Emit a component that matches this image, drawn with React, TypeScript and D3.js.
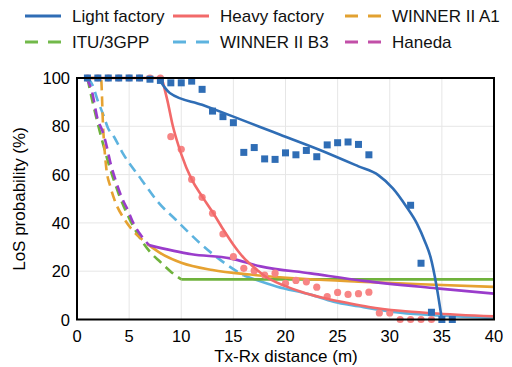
import React, { useEffect, useRef } from 'react';
import * as d3 from 'd3';

// measured points (x = distance m, y = LoS %)
const lightMeasX = [1, 2, 3, 4, 5, 6, 7, 8, 9, 10, 11, 12, 13, 14, 15, 16, 17, 18, 19, 20, 21, 22, 23, 24, 25, 26, 27, 28, 32, 33, 34, 35, 36];
const lightMeasY = [100, 100, 100, 100, 100, 100, 99.5, 99, 98, 98, 98.7, 95.3, 86.3, 84, 81.5, 69.2, 71.2, 66.5, 66.3, 69, 68.2, 70, 67.4, 72.3, 73.2, 73.5, 72.5, 68.2, 47.3, 23.3, 3, 0, 0];
const heavyMeasX = [1, 2, 3, 4, 5, 6, 7, 8, 9, 10, 11, 12, 13, 14, 15, 16, 17, 18, 19, 20, 21, 22, 23, 24, 25, 26, 27, 28, 29, 30, 31, 32, 33, 34];
const heavyMeasY = [100, 100, 100, 100, 100, 100, 100, 100, 75.7, 70.5, 58, 50.6, 44, 35.4, 26, 21.2, 20.2, 18.4, 19.2, 15, 16.2, 15.6, 13.4, 9.5, 11.2, 10.4, 10.7, 11.3, 2.7, 2.7, 0, 0, 0, 0];

// fitted curves
const lightFitX = [7.8, 8.9, 12, 15, 17.5, 19.5, 23.3, 27, 28.9, 30.3, 31.6, 32.6, 33.4, 33.9, 34.5, 35];
const lightFitY = [100, 93.8, 88.9, 84, 79.8, 76.5, 70.2, 63.4, 59.8, 54.3, 46.7, 39.8, 32, 26, 13.6, 0];
const heavyFitX = [0.8, 8, 8.6, 9.2, 10, 11, 12, 13, 14, 15, 16, 17, 18, 20, 22, 24, 26, 28, 31, 34, 40];
const heavyFitY = [100, 100, 92, 80, 68.5, 58, 51, 44.5, 37.5, 31, 25.5, 21.5, 18, 13.8, 10.8, 8.6, 6.8, 5.2, 3.6, 2.6, 1.3];

// models: dashed part, then solid part
const a1X = [1, 2.3, 2.5, 2.8, 3.2, 3.6, 4.6, 5.6, 6.5, 7];
const a1Y = [100, 100, 80, 63, 55, 49.5, 41.2, 35.7, 32.2, 30.5];
const a1SolidX = [7, 8, 10, 13, 16.6, 22, 27, 33, 40];
const a1SolidY = [30.5, 27.5, 23.5, 20.5, 18.6, 16.8, 15.7, 14.6, 13.5];
const ituX = [1, 1.5, 2, 3, 4, 5, 6, 7, 8, 9, 10];
const ituY = [100, 90, 81, 65, 52, 42, 34, 28, 23.8, 19.8, 16.6];
const ituSolidX = [10, 40];
const ituSolidY = [16.6, 16.6];
const b3X = [1, 1.5, 2, 2.5, 3, 3.5, 4.4, 6.2, 7.8, 9.5, 11.8, 14.4, 16];
const b3Y = [100, 97, 90.5, 85, 79, 76, 68.8, 57.8, 48.5, 41.2, 31.6, 22.6, 18.2];
const b3SolidX = [16, 19.2, 22.4, 24.6, 27, 31, 35, 40];
const b3SolidY = [18.2, 13.6, 10.3, 7.4, 5.5, 2.8, 1.6, 0.7];
const hanedaX = [0.9, 1.4, 2, 2.4, 2.7, 3.3, 3.6, 4.4, 4.8, 5.4, 6, 6.9];
const hanedaY = [100, 95, 82.6, 78.5, 74.3, 63.3, 59, 49.5, 46, 40, 35.7, 30.8];
const hanedaSolidX = [6.9, 11, 14.7, 17.6, 22.4, 27.5, 34.5, 40];
const hanedaSolidY = [30.8, 27, 25.3, 22, 19.1, 16, 12.9, 10.7];

const xTicks = [0, 5, 10, 15, 20, 25, 30, 35, 40];
const yTicks = [0, 20, 40, 60, 80, 100];

const legendItems = [
  { name: 'Light factory', color: '#2f6db5', dash: false },
  { name: 'Heavy factory', color: '#f26a6a', dash: false },
  { name: 'WINNER II A1', color: '#e2a131', dash: true },
  { name: 'ITU/3GPP', color: '#72b94a', dash: true },
  { name: 'WINNER II B3', color: '#5db3df', dash: true },
  { name: 'Haneda', color: '#c24fa8', dash: true },
];

const zip = (xs: number[], ys: number[]) => xs.map((x, i) => [x, ys[i]] as [number, number]);

export default function App() {
  const ref = useRef<SVGSVGElement>(null);

  useEffect(() => {
    const svg = d3.select(ref.current);
    svg.selectAll('*').remove();
    const font = 'Liberation Sans, Arial, sans-serif';

    const x = d3.scaleLinear().domain([0, 40]).range([77, 494]);
    const y = d3.scaleLinear().domain([0, 100]).range([319.5, 78]);

    // grid
    const grid = svg.append('g').attr('stroke', '#e6e6e6').attr('stroke-width', 1);
    xTicks.slice(1, -1).forEach((t) => {
      grid.append('line').attr('x1', x(t)).attr('x2', x(t)).attr('y1', y(0)).attr('y2', y(100));
    });
    yTicks.slice(1, -1).forEach((t) => {
      grid.append('line').attr('x1', x(0)).attr('x2', x(40)).attr('y1', y(t)).attr('y2', y(t));
    });

    const line = d3
      .line<[number, number]>()
      .x((d) => x(d[0]))
      .y((d) => y(d[1]))
      .curve(d3.curveMonotoneX);

    const plot = svg.append('g');
    const drawLine = (pts: [number, number][], color: string, dashed: boolean) => {
      plot
        .append('path')
        .attr('d', line(pts))
        .attr('fill', 'none')
        .attr('stroke', color)
        .attr('stroke-width', 2.6)
        .attr('stroke-dasharray', dashed ? '10,6' : null);
    };

    drawLine(zip(b3X, b3Y), '#5db3df', true);
    drawLine(zip(b3SolidX, b3SolidY), '#5db3df', false);
    drawLine(zip(ituX, ituY), '#6fb23c', true);
    drawLine(zip(ituSolidX, ituSolidY), '#6fb23c', false);
    drawLine(zip(a1X, a1Y), '#e6a231', true);
    drawLine(zip(a1SolidX, a1SolidY), '#e6a231', false);
    drawLine(zip(hanedaX, hanedaY), '#9a3ccb', true);
    drawLine(zip(hanedaSolidX, hanedaSolidY), '#9a3ccb', false);

    // heavy factory
    plot
      .selectAll('.hm')
      .data(zip(heavyMeasX, heavyMeasY))
      .enter()
      .append('circle')
      .attr('cx', (d) => x(d[0]))
      .attr('cy', (d) => y(d[1]))
      .attr('r', 3.6)
      .attr('fill', '#f78585');
    drawLine(zip(heavyFitX, heavyFitY), '#f26a6a', false);

    // light factory
    plot
      .selectAll('.lm')
      .data(zip(lightMeasX, lightMeasY))
      .enter()
      .append('rect')
      .attr('x', (d) => x(d[0]) - 3.5)
      .attr('y', (d) => y(d[1]) - 3.5)
      .attr('width', 7)
      .attr('height', 7)
      .attr('fill', '#2f6db5');
    drawLine(zip(lightFitX, lightFitY), '#2f6db5', false);

    // frame
    svg
      .append('rect')
      .attr('x', x(0))
      .attr('y', y(100))
      .attr('width', x(40) - x(0))
      .attr('height', y(0) - y(100))
      .attr('fill', 'none')
      .attr('stroke', '#000')
      .attr('stroke-width', 2);

    // tick labels
    svg
      .selectAll('.xt')
      .data(xTicks)
      .enter()
      .append('text')
      .attr('x', (d) => x(d))
      .attr('y', 342)
      .attr('text-anchor', 'middle')
      .attr('font-family', font)
      .attr('font-size', 16.5)
      .text((d) => d);
    svg
      .selectAll('.yt')
      .data(yTicks)
      .enter()
      .append('text')
      .attr('x', 70)
      .attr('y', (d) => y(d) + 6)
      .attr('text-anchor', 'end')
      .attr('font-family', font)
      .attr('font-size', 16.5)
      .text((d) => d);

    svg
      .append('text')
      .attr('x', 286)
      .attr('y', 362)
      .attr('text-anchor', 'middle')
      .attr('font-family', font)
      .attr('font-size', 17)
      .text('Tx-Rx distance (m)');
    svg
      .append('text')
      .attr('transform', 'translate(25,199) rotate(-90)')
      .attr('text-anchor', 'middle')
      .attr('font-family', font)
      .attr('font-size', 17)
      .text('LoS probability (%)');

    // legend
    const colX = [25, 173, 345];
    const rowY = [16, 42];
    legendItems.forEach((it, i) => {
      const cx = colX[i % 3];
      const cy = rowY[Math.floor(i / 3)];
      svg
        .append('line')
        .attr('x1', cx)
        .attr('x2', cx + 36)
        .attr('y1', cy)
        .attr('y2', cy)
        .attr('stroke', it.color)
        .attr('stroke-width', 3)
        .attr('stroke-dasharray', it.dash ? '13,10' : null);
      svg
        .append('text')
        .attr('x', cx + 47)
        .attr('y', cy + 6)
        .attr('font-family', font)
        .attr('font-size', 17)
        .attr('fill', '#111')
        .text(it.name);
    });
  }, []);

  return <svg ref={ref} width={512} height={367} style={{ position: 'absolute', left: 0, top: 0 }} />;
}
